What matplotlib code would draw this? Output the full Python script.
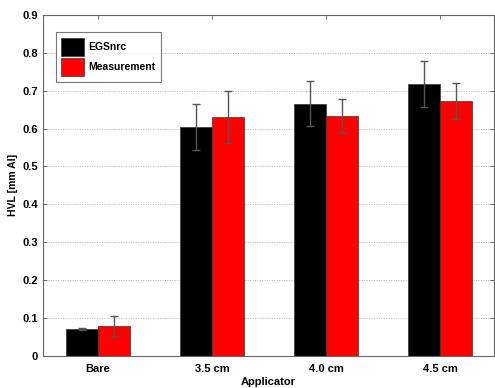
import matplotlib
matplotlib.use("Agg")
import matplotlib.pyplot as plt
import numpy as np

# values
applicators = ["Bare", "3.5 cm", "4.0 cm", "4.5 cm"]
egsnrc = [0.071, 0.604, 0.666, 0.718]
egsnrc_err = [0.002, 0.061, 0.060, 0.060]
measurement = [0.079, 0.630, 0.634, 0.673]
measurement_err = [0.027, 0.068, 0.045, 0.047]

plt.rcParams["font.family"] = ["Liberation Sans", "DejaVu Sans"]
plt.rcParams["font.weight"] = "bold"

fig = plt.figure(figsize=(4.95, 3.88), dpi=100)
ax = fig.add_axes([43 / 495, 1 - 355.7 / 388, 451 / 495, (355.7 - 15) / 388])

x = np.arange(1, len(applicators) + 1)
width = 0.28
err_kw = dict(ecolor="#555555", elinewidth=1.0, capsize=3, capthick=1.0)
ax.bar(x - width / 2, egsnrc, width, yerr=egsnrc_err, color="black",
       edgecolor="#333333", linewidth=0.5, label="EGSnrc", error_kw=err_kw, zorder=2)
ax.bar(x + width / 2, measurement, width, yerr=measurement_err, color="#ff0000",
       edgecolor="#333333", linewidth=0.5, label="Measurement", error_kw=err_kw, zorder=2)

ax.set_xlim(0.52, 4.47)
ax.set_ylim(0, 0.9)
ax.set_yticks(np.arange(0, 0.91, 0.1))
ax.set_yticklabels(["0"] + ["%.1f" % v for v in np.arange(0.1, 0.91, 0.1)])
ax.set_xticks(x)
ax.set_xticklabels(applicators)
ax.tick_params(direction="in", top=True, right=True, labelsize=8, length=3,
               color="#555555", width=0.6)
ax.tick_params(axis="x", pad=6)
ax.yaxis.grid(True, linestyle=(0, (1, 1.5)), color="#b0b0b0", linewidth=0.7, zorder=0)
ax.set_axisbelow(True)
for s in ax.spines.values():
    s.set_color("#666666")
    s.set_linewidth(0.8)

ax.set_ylabel("HVL [mm Al]", fontsize=7.5, fontweight="bold", labelpad=3)
ax.set_xlabel("Applicator", fontsize=8, fontweight="bold", labelpad=2)

leg = ax.legend(loc="upper left", bbox_to_anchor=(0.028, 0.95), fontsize=7.5,
                fancybox=False, edgecolor="#555555", handlelength=2.2,
                handleheight=2.3, borderpad=0.55, labelspacing=0.2,
                handletextpad=0.4, borderaxespad=0)
leg.get_frame().set_linewidth(0.8)

fig.savefig("out.png", dpi=100)
